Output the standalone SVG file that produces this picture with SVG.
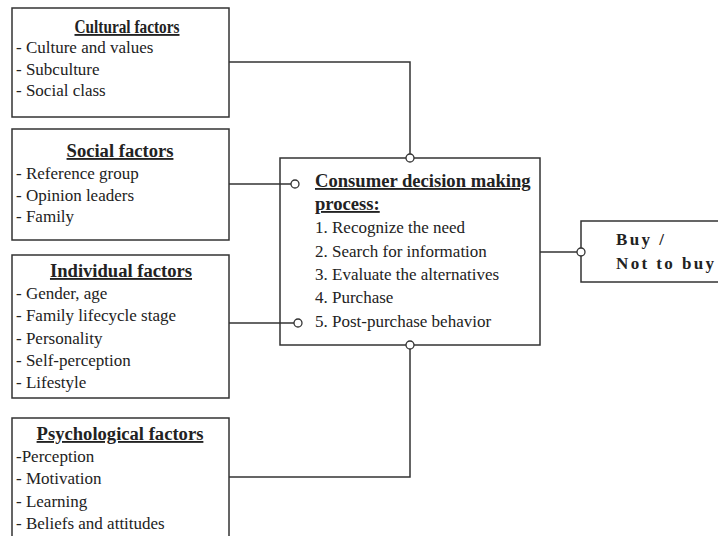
<svg xmlns="http://www.w3.org/2000/svg" width="718" height="536" viewBox="0 0 718 536">
<style>
.box{fill:#fff;stroke:#333;stroke-width:1.5}
.ln{fill:none;stroke:#333;stroke-width:1.5}
.dot{fill:#fff;stroke:#333;stroke-width:1.3}
.t{font-family:"Liberation Serif","Times New Roman",serif;font-size:17px;fill:#222}
.h{font-family:"Liberation Serif","Times New Roman",serif;font-size:18.6px;font-weight:bold;fill:#222;text-decoration:underline}
.b{font-family:"Liberation Serif","Times New Roman",serif;font-size:17px;font-weight:bold;fill:#222;letter-spacing:2.4px}
</style>
<rect width="718" height="536" fill="#fff"/>
<g id="cultural">
<rect class="box" x="12" y="8" width="217" height="109"/>
<text class="h" x="127" y="33" text-anchor="middle" font-size="16" textLength="105" lengthAdjust="spacingAndGlyphs">Cultural factors</text>
<text class="t" x="16" y="53">- Culture and values</text>
<text class="t" x="16" y="75">- Subculture</text>
<text class="t" x="16" y="96">- Social class</text>
</g>
<g id="social">
<rect class="box" x="12" y="129" width="217" height="111"/>
<text class="h" x="120" y="157" text-anchor="middle">Social factors</text>
<text class="t" x="16" y="179">- Reference group</text>
<text class="t" x="16" y="201">- Opinion leaders</text>
<text class="t" x="16" y="222">- Family</text>
</g>
<g id="individual">
<rect class="box" x="12" y="255" width="217" height="143"/>
<text class="h" x="121" y="277" text-anchor="middle">Individual factors</text>
<text class="t" x="16" y="299">- Gender, age</text>
<text class="t" x="16" y="321">- Family lifecycle stage</text>
<text class="t" x="16" y="344">- Personality</text>
<text class="t" x="16" y="366">- Self-perception</text>
<text class="t" x="16" y="388">- Lifestyle</text>
</g>
<g id="psychological">
<rect class="box" x="12" y="418" width="217" height="130"/>
<text class="h" x="120" y="440" text-anchor="middle">Psychological factors</text>
<text class="t" x="16" y="462">-Perception</text>
<text class="t" x="16" y="484">- Motivation</text>
<text class="t" x="16" y="507">- Learning</text>
<text class="t" x="16" y="529">- Beliefs and attitudes</text>
</g>
<g id="process">
<rect class="box" x="280" y="158" width="260" height="187"/>
<text class="h" x="315" y="187" font-size="19.5">Consumer decision making</text>
<text class="h" x="315" y="210" font-size="19.5">process:</text>
<text class="t" x="315" y="233">1. Recognize the need</text>
<text class="t" x="315" y="257">2. Search for information</text>
<text class="t" x="315" y="280">3. Evaluate the alternatives</text>
<text class="t" x="315" y="303">4. Purchase</text>
<text class="t" x="315" y="327">5. Post-purchase behavior</text>
</g>
<g id="outcome">
<rect class="box" x="581" y="221" width="150" height="61"/>
<text class="b" x="616" y="245">Buy /</text>
<text class="b" x="616" y="269">Not to buy</text>
</g>
<g id="connectors">
<polyline class="ln" points="229,62 410,62 410,154"/>
<line class="ln" x1="229" y1="184" x2="291" y2="184"/>
<line class="ln" x1="229" y1="323" x2="294" y2="323"/>
<polyline class="ln" points="229,477 410,477 410,349"/>
<line class="ln" x1="540" y1="252" x2="577" y2="252"/>
<circle class="dot" cx="410" cy="158" r="4"/>
<circle class="dot" cx="295" cy="184" r="4"/>
<circle class="dot" cx="298" cy="323" r="4"/>
<circle class="dot" cx="410" cy="345" r="4"/>
<circle class="dot" cx="581" cy="252" r="4"/>
</g>
</svg>
